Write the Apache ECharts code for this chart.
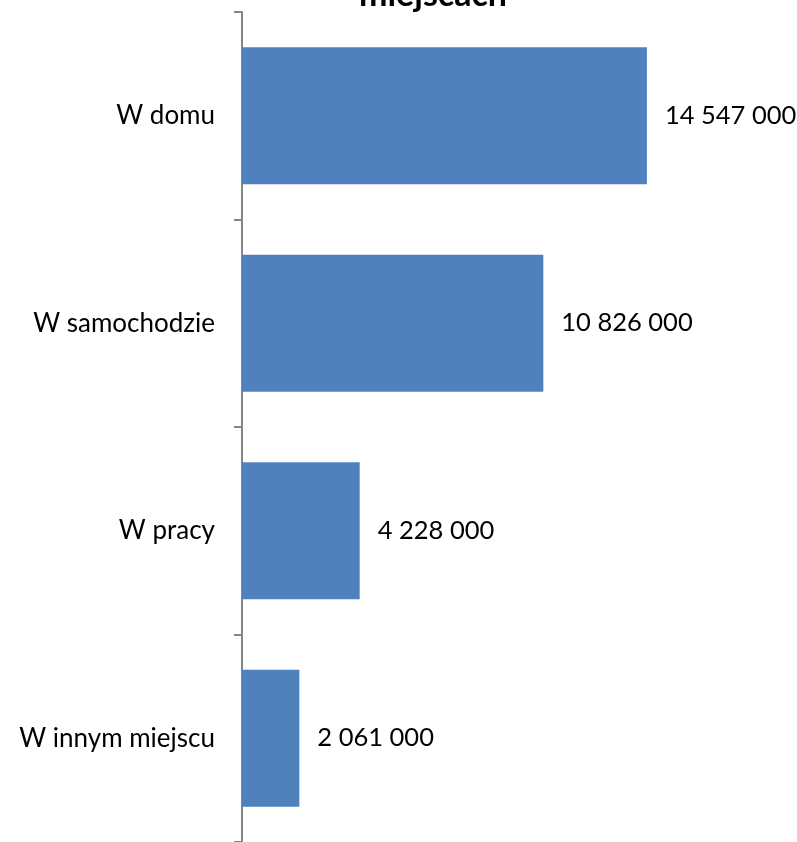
<!DOCTYPE html>
<html>
<head>
<meta charset="utf-8">
<script src="https://cdn.jsdelivr.net/npm/echarts@6/dist/echarts.min.js"></script>
<style>html,body{margin:0;padding:0;background:#fff;}#c{width:797px;height:842px;}</style>
</head>
<body>
<div id="c"></div>
<script>
var categories = ["W domu", "W samochodzie", "W pracy", "W innym miejscu"];
var values = [14547000, 10826000, 4228000, 2061000];
var titleText = "miejscach";

function fmt(v) {
  return String(v).replace(/\B(?=(\d{3})+(?!\d))/g, " ");
}

var chart = echarts.init(document.getElementById('c'));
chart.setOption({
  animation: false,
  title: {
    text: titleText,
    left: 428,
    textAlign: 'center',
    top: -30,
    textStyle: { fontFamily: 'Lato', fontWeight: 'bold', fontSize: 34, color: '#000', lineHeight: 40 }
  },
  grid: { left: 242, right: 54, top: 12, bottom: -2, containLabel: false },
  xAxis: {
    type: 'value', min: 0, max: 18000000, show: false
  },
  yAxis: {
    type: 'category',
    data: categories,
    inverse: true,
    axisLine: { show: true, lineStyle: { color: '#868686', width: 2 } },
    axisTick: { show: true, inside: false, length: 8, alignWithLabel: false, lineStyle: { color: '#868686', width: 2 } },
    axisLabel: { margin: 27, fontFamily: 'Lato', fontSize: 26, color: '#000' }
  },
  series: [{
    type: 'bar',
    data: values,
    barCategoryGap: '34%',
    itemStyle: { color: '#4F81BD' },
    label: {
      show: true, position: 'right', distance: 18,
      fontFamily: 'Lato', fontSize: 25.5, color: '#000',
      formatter: function (p) { return fmt(p.value); }
    }
  }]
});
</script>
</body>
</html>
